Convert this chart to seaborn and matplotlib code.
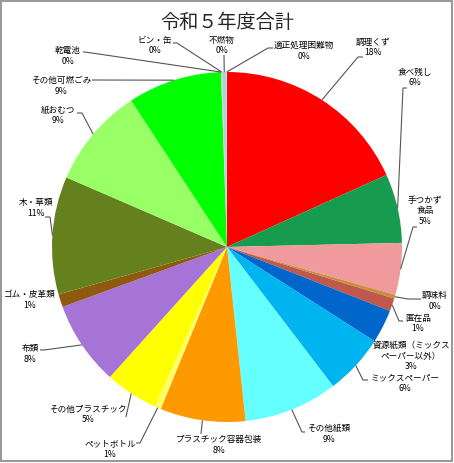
import matplotlib
matplotlib.use("Agg")
import matplotlib.pyplot as plt
import numpy as np
import seaborn as sns
from matplotlib.patches import Rectangle

# %%
categories = [
    "調理くず", "食べ残し", "手つかず食品", "調味料", "匿在品",
    "資源紙類（ミックスペーパー以外）", "ミックスペーパー", "その他紙類",
    "プラスチック容器包装", "ペットボトル", "その他プラスチック", "布類",
    "ゴム・皮革類", "木・草類", "紙おむつ", "その他可燃ごみ", "乾電池",
    "ビン・缶", "不燃物", "適正処理困難物",
]
shares = [
    18.3, 6.4, 4.8, 0.35, 1.2,
    3.1, 5.6, 8.7,
    7.9, 0.6, 4.9, 7.8,
    1.2, 10.9, 9.3, 8.7, 0.05,
    0.05, 0.4, 0.05,
]
colors = [
    "#ff0000", "#169b4f", "#f19a9e", "#c8903c", "#c0584c",
    "#0066cc", "#00b4f0", "#66ffff",
    "#ff9900", "#ffff66", "#ffff00", "#a574d6",
    "#8f5a10", "#65811e", "#99ff66", "#00ff00", "#f0b0b0",
    "#d0d0d0", "#a8d4dc", "#e0e0e0",
]

# how the names are broken on the chart
display_names = [
    "調理くず", "食べ残し", "手つかず\n食品", "調味料", "匿在品",
    "資源紙類（ミックス\nペーパー以外）", "ミックスペーパー", "その他紙類",
    "プラスチック容器包装", "ペットボトル", "その他プラスチック", "布類",
    "ゴム・皮革類", "木・草類", "紙おむつ", "その他可燃ごみ", "乾電池",
    "ビン・缶", "不燃物", "適正処理困難物",
]

# label block centres and leader line bends, in pixels from top-left
label_pos = [
    (373, 47.5), (415, 77.5), (425, 211), (435, 301), (418, 323.5),
    (411, 356), (405, 383.5), (329, 434),
    (219, 445), (110, 449.5), (88, 414.5), (30, 354),
    (30, 300), (36, 208), (58, 115.5), (61, 86), (68, 56),
    (155, 45.5), (222, 45.5), (304, 51),
]
leaders = [
    [(358, 57), (363, 57)], [(403, 88), (407, 88)], [(413, 227), (417, 227)],
    [(408, 299), (421, 299)], [(399, 321), (403, 321)],
    None, [(363, 380), (368, 380)], [(302, 432), (305, 432)],
    [(201, 434)], [(140, 443), (136, 443)], [(126, 417)], [(44, 350), (40, 350)],
    None, [(50, 217), (45, 217)], [(82, 113), (77, 113)], [(92, 80)],
    [(85, 52), (83, 52)],
    [(177, 43), (173, 43)], [(224, 55)], [(268, 48), (273, 48)],
]

# %%
sns.set_theme(style="white")
plt.rcParams["font.family"] = ["Noto Sans CJK JP", "DejaVu Sans"]

W, H = 454, 463
cx, cy, r = 227, 247, 175

fig = plt.figure(figsize=(W / 100, H / 100), dpi=100)
ax = fig.add_axes([0, 0, 1, 1])

wedges, _ = ax.pie(
    shares,
    colors=colors,
    startangle=90,
    counterclock=False,
    center=(cx, H - cy),
    radius=r,
    wedgeprops=dict(linewidth=0),
)
ax.set_xlim(0, W)
ax.set_ylim(0, H)
ax.axis("off")

total = sum(shares)
for w, name, v, (tx, ty), pts in zip(wedges, display_names, shares, label_pos, leaders):
    pct = round(v / total * 100)
    ax.text(
        tx, H - ty, f"{name}\n{pct}%",
        ha="center", va="center", fontsize=6.2, linespacing=1.25, color="black",
    )
    if pts is None:
        continue
    mid = np.deg2rad((w.theta1 + w.theta2) / 2)
    xs = [cx + r * np.cos(mid)] + [p[0] for p in pts]
    ys = [H - cy + r * np.sin(mid)] + [H - p[1] for p in pts]
    ax.plot(xs, ys, color="#555555", linewidth=0.8, solid_capstyle="butt")

ax.text(cx, H - 22, "令和５年度合計", ha="center", va="center", fontsize=13.8)

ax.add_patch(Rectangle((1, 2), W - 3, H - 3, fill=False, edgecolor="#999999", linewidth=1.5))

fig.savefig("out.png", dpi=100)
